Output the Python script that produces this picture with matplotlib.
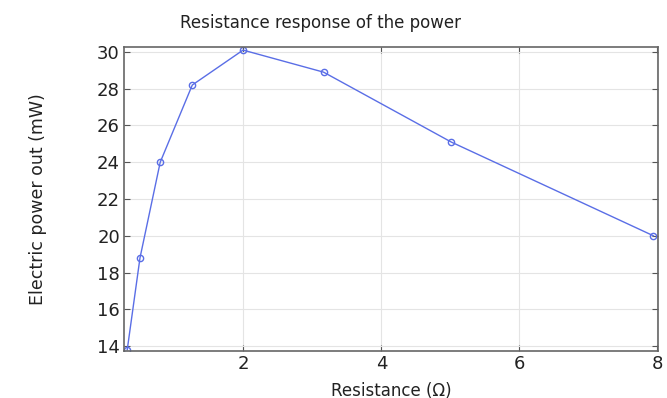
import numpy as np
import matplotlib
matplotlib.use("Agg")
from matplotlib import pyplot as plt

# resistance sweep (ohm) and electric power out (mW)
resistance = [0.316, 0.501, 0.794, 1.259, 1.995, 3.162, 5.012, 7.943]
power = [13.8, 18.8, 24.0, 28.2, 30.1, 28.9, 25.1, 20.0]

x_ticks = [2, 4, 6, 8]
y_ticks = [14, 16, 18, 20, 22, 24, 26, 28, 30]

fig = plt.figure(figsize=(6.67, 3.98), dpi=100)
ax = fig.add_axes([0.186, 0.118, 0.8005, 0.764])

ax.plot(resistance, power, '-o', color='#5a6ee6', lw=1.0, ms=4.5,
        mfc='none', mec='#5a6ee6', mew=1.0)

ax.set_xlim(0.27, 8.01)
ax.set_ylim(13.73, 30.27)
ax.set_xticks(x_ticks)
ax.set_yticks(y_ticks)
ax.grid(True, color='#e4e4e4', lw=0.8)
ax.tick_params(direction='in', top=True, right=True, labelsize=13,
               color='#555555', length=4, labelcolor='#222222', pad=3)
for s in ax.spines.values():
    s.set_color('#666666')
    s.set_linewidth(1.2)

# title sits left of the axes centre in the original
fig.text(320 / 667, 1 - 23 / 398, 'Resistance response of the power',
         fontsize=12, ha='center', va='center', color='#222222')
ax.set_xlabel('Resistance (\u03a9)', fontsize=12, labelpad=6, color='#222222')
ax.set_ylabel('Electric power out (mW)', fontsize=12.5, color='#222222')
ax.yaxis.set_label_coords(-(124 - 47) / 534, 0.5)

plt.savefig('out.png', dpi=100)
